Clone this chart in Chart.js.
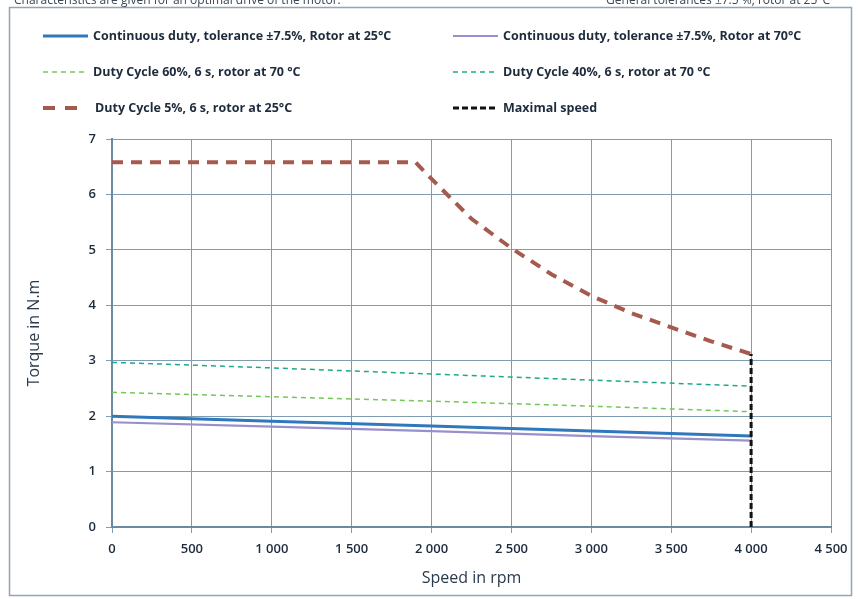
<!DOCTYPE html>
<html>
<head>
<meta charset="utf-8">
<script src="https://cdn.jsdelivr.net/npm/chart.js@4.4.1/dist/chart.umd.min.js"></script>
<style>
  html, body { margin: 0; padding: 0; background: #ffffff; }
  #wrap { position: relative; width: 859px; height: 599px; }
</style>
</head>
<body>
<div id="wrap"><canvas id="c" width="859" height="599"></canvas></div>
<script>
// ---- data ----
const speedLinear = [0, 1000, 2000, 3000, 4000];
const contDuty25 = [2.00, 1.91, 1.82, 1.73, 1.64];
const contDuty70 = [1.89, 1.81, 1.73, 1.64, 1.56];
const duty60 = [2.43, 2.35, 2.27, 2.18, 2.08];
const duty40 = [2.97, 2.87, 2.76, 2.65, 2.54];
const speedDuty5 = [0, 1900, 2000, 2250, 2500, 2750, 3000, 3250, 3500, 3750, 4000];
const duty5 = [6.58, 6.58, 6.28, 5.56, 5.03, 4.56, 4.17, 3.86, 3.60, 3.35, 3.12];
const speedMax = [4000, 4000];
const torqueMax = [0, 3.12];
const yTicks = [0, 1, 2, 3, 4, 5, 6, 7];
const xTicks = [0, 500, 1000, 1500, 2000, 2500, 3000, 3500, 4000, 4500];
const seriesNames = [
  'Continuous duty, tolerance \u00b17.5%, Rotor at 25\u00b0C',
  'Continuous duty, tolerance \u00b17.5%, Rotor at 70\u00b0C',
  'Duty Cycle 60%, 6 s, rotor at 70 \u00b0C',
  'Duty Cycle 40%, 6 s, rotor at 70 \u00b0C',
  'Duty Cycle 5%, 6 s, rotor at 25\u00b0C',
  'Maximal speed'
];
const topLeftNote = 'Characteristics are given for an optimal drive of the motor.';
const topRightNote = 'General tolerances \u00b17.5 %, rotor at 25\u00b0C';
const xTitle = 'Speed in rpm';
const yTitle = 'Torque in N.m';

const pts = (xs, ys) => xs.map((x, i) => ({x: x, y: ys[i]}));
const TXT = '#1d2b3b';

const datasets = [
  {label: seriesNames[0], data: pts(speedLinear, contDuty25), borderColor: '#2f78bd', borderWidth: 3, borderDash: [], order: 3},
  {label: seriesNames[1], data: pts(speedLinear, contDuty70), borderColor: '#998fcc', borderWidth: 2.2, borderDash: [], order: 4},
  {label: seriesNames[2], data: pts(speedLinear, duty60), borderColor: '#74c85a', borderWidth: 1.5, borderDash: [5, 4], order: 5},
  {label: seriesNames[3], data: pts(speedLinear, duty40), borderColor: '#1ea98a', borderWidth: 1.5, borderDash: [5, 4], order: 6},
  {label: seriesNames[4], data: pts(speedDuty5, duty5), borderColor: '#a65a4d', borderWidth: 4, borderDash: [11, 8], order: 2},
  {label: seriesNames[5], data: pts(speedMax, torqueMax), borderColor: '#111111', borderWidth: 3, borderDash: [6, 3], order: 1}
];
datasets.forEach(d => { d.pointRadius = 0; d.fill = false; d.tension = 0; d.backgroundColor = d.borderColor; });

const legendLayout = [
  {col: 0, row: 0}, {col: 1, row: 0},
  {col: 0, row: 1}, {col: 1, row: 1},
  {col: 0, row: 2}, {col: 1, row: 2}
];

const framePlugin = {
  id: 'frame',
  beforeDraw(chart) {
    const ctx = chart.ctx;
    ctx.save();
    ctx.fillStyle = '#ffffff';
    ctx.fillRect(0, 0, chart.width, chart.height);
    ctx.strokeStyle = '#8fa5b8';
    ctx.lineWidth = 1.5;
    ctx.strokeRect(9.5, 7.5, 842, 588);
    ctx.fillStyle = '#3a4654';
    ctx.font = '12px "Open Sans", sans-serif';
    ctx.textBaseline = 'alphabetic';
    ctx.textAlign = 'left';
    ctx.fillText(topLeftNote, 14, 4);
    ctx.textAlign = 'right';
    ctx.fillText(topRightNote, 830, 4);
    ctx.restore();
  },
  afterDraw(chart) {
    const ctx = chart.ctx;
    const colX = [[43, 88, 93], [453, 498, 503]];
    const rowY = [36, 72, 108];
    ctx.save();
    chart.data.datasets.forEach((ds, i) => {
      const L = legendLayout[i];
      const [x0, x1, tx] = colX[L.col];
      const y = rowY[L.row];
      ctx.beginPath();
      ctx.strokeStyle = ds.borderColor;
      ctx.lineWidth = ds.borderWidth;
      ctx.setLineDash(i === 4 ? [12, 10] : ds.borderDash);
      ctx.moveTo(x0, y);
      ctx.lineTo(i === 4 ? 79 : x1, y);
      ctx.stroke();
      ctx.setLineDash([]);
      ctx.fillStyle = TXT;
      ctx.font = 'bold 12.5px "Open Sans", sans-serif';
      ctx.textAlign = 'left';
      ctx.textBaseline = 'middle';
      ctx.fillText(ds.label, i === 4 ? tx + 2 : tx, y);
    });
    ctx.restore();
  }
};

const fmt = v => {
  const s = String(Math.round(v));
  return s.length > 3 ? s.slice(0, s.length - 3) + ' ' + s.slice(-3) : s;
};

new Chart(document.getElementById('c'), {
  type: 'line',
  data: {datasets: datasets},
  options: {
    responsive: false,
    animation: false,
    events: [],
    layout: {padding: {left: 0, right: 28, top: 139, bottom: 0}},
    plugins: {legend: {display: false}, tooltip: {enabled: false}},
    scales: {
      x: {
        type: 'linear', min: 0, max: 4500,
        afterBuildTicks: s => { s.ticks = xTicks.map(v => ({value: v})); },
        afterFit: s => { s.height = 72; },
        grid: {color: '#7f9db2', lineWidth: 1, tickLength: 6, drawTicks: true, tickColor: '#7f9db2'},
        border: {color: '#6c8ba0', width: 2},
        ticks: {color: TXT, padding: 8, font: {family: '"Open Sans", sans-serif', size: 13, weight: 600}, callback: v => fmt(v), maxRotation: 0},
        title: {display: true, text: xTitle, color: '#2a3a4c', font: {family: '"Open Sans", sans-serif', size: 16}, padding: {top: 0, bottom: 11}}
      },
      y: {
        type: 'linear', min: 0, max: 7,
        afterBuildTicks: s => { s.ticks = yTicks.map(v => ({value: v})); },
        afterFit: s => { s.width = 112; },
        grid: {color: '#7f9db2', lineWidth: 1, tickLength: 6, tickColor: '#7f9db2'},
        border: {color: '#6c8ba0', width: 2},
        ticks: {color: TXT, padding: 10, font: {family: '"Open Sans", sans-serif', size: 13, weight: 600}},
        title: {display: true, text: yTitle, color: '#2a3a4c', font: {family: '"Open Sans", sans-serif', size: 16}, padding: {top: 25, bottom: 0}}
      }
    }
  },
  plugins: [framePlugin]
});
</script>
</body>
</html>
